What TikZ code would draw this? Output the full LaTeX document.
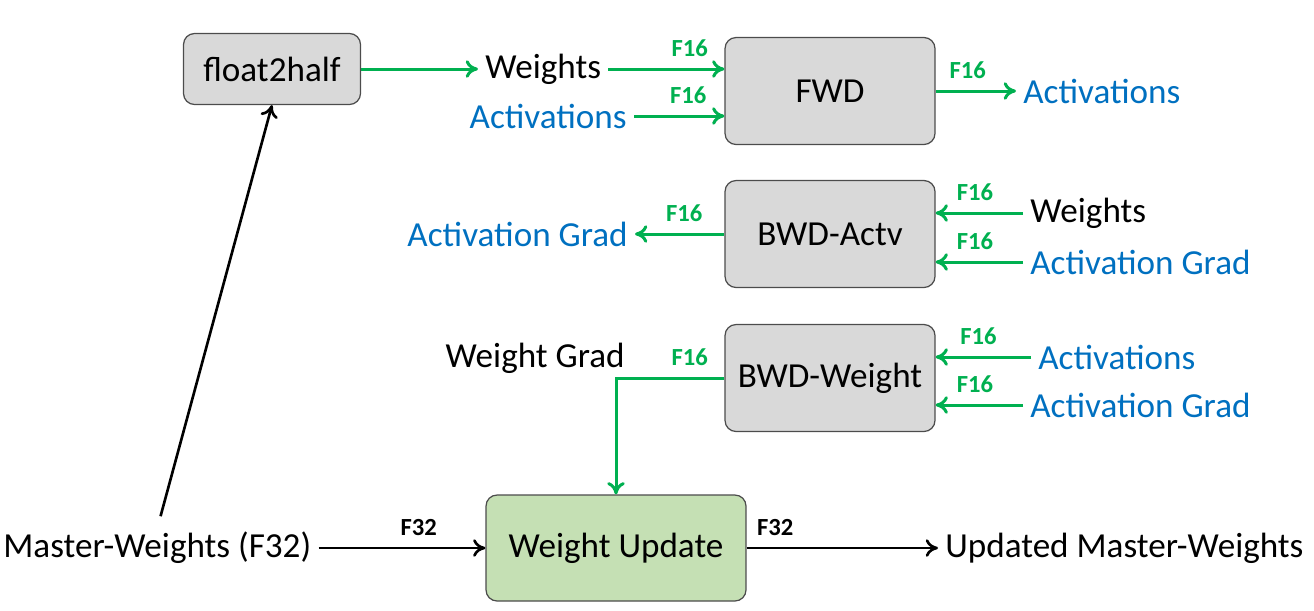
\documentclass[tikz,border=0pt]{standalone}
\usepackage{fontspec}
\setmainfont{Carlito}
\usetikzlibrary{arrows.meta,positioning}
\definecolor{flowgreen}{RGB}{0,176,80}
\definecolor{textblue}{RGB}{0,112,192}
\definecolor{boxgray}{RGB}{217,217,217}
\definecolor{boxgreen}{RGB}{197,224,180}

\begin{document}
\begin{tikzpicture}[
    x=0.02cm, y=-0.02cm,
    >={To[length=7pt,width=10pt]},
    op/.style={rectangle, rounded corners=0.22cm, draw=black!70, line width=0.7pt, fill=boxgray, minimum width=4.2cm, minimum height=2.14cm, align=center, font=\fontsize{20}{23}\selectfont},
    lbl/.style={inner xsep=4pt, inner ysep=2pt, font=\fontsize{20}{23}\selectfont},
    act/.style={lbl, text=textblue},
    prec/.style={inner sep=0pt, font=\fontsize{14}{16}\selectfont\bfseries},
    flow/.style={->, line width=1.7pt, flowgreen},
    master/.style={->, line width=1.5pt, black}
]
    \useasboundingbox (0,0) rectangle (1314,610);

    % Boxes
    \node[op, minimum width=3.54cm, minimum height=1.42cm] (f2h) at (272,69) {float2half};
    \node[op] (fwd) at (830,91) {FWD};
    \node[op] (bwda) at (830,234) {BWD-Actv};
    \node[op] (bwdw) at (830,378) {BWD-Weight};
    \node[op, fill=boxgreen, minimum width=5.2cm, minimum height=2.12cm] (wu) at (616,548) {Weight Update};

    % Labels
    \node[lbl, anchor=west] (w1) at (478,69) {Weights};
    \node[act, anchor=east] (a1) at (634,116) {Activations};
    \node[act, anchor=west] (a2) at (1016,91) {Activations};
    \node[act, anchor=east] (ag1) at (635,234) {Activation Grad};
    \node[lbl, anchor=west] (w2) at (1023,213) {Weights};
    \node[act, anchor=west] (ag2) at (1023,262) {Activation Grad};
    \node[act, anchor=west] (a3) at (1031,357) {Activations};
    \node[act, anchor=west] (ag3) at (1023,405) {Activation Grad};
    \node[lbl, anchor=east] (wg) at (632,358) {Weight Grad};
    \node[lbl, anchor=west] (mw) at (-4,548) {Master-Weights (F32)};
    \node[lbl, anchor=west] (umw) at (938,548) {Updated Master-Weights};

    % Forward
    \draw[flow] (f2h.east) -- (w1.west);
    \draw[flow] (w1.east) -- node[prec, pos=0.7, above=6pt] {F16} (w1.east -| fwd.west);
    \draw[flow] (a1.east) -- node[prec, pos=0.6, above=6pt] {F16} (a1.east -| fwd.west);
    \draw[flow] (fwd.east) -- node[prec, pos=0.4, above=6pt] {F16} (a2.west);

    % Backward activations
    \draw[flow] (w2.west) -- node[prec, pos=0.55, above=6pt] {F16} (w2.west -| bwda.east);
    \draw[flow] (ag2.west) -- node[prec, pos=0.55, above=6pt] {F16} (ag2.west -| bwda.east);
    \draw[flow] (bwda.west) -- node[prec, pos=0.45, above=6pt] {F16} (ag1.east);

    % Backward weights
    \draw[flow] (a3.west) -- node[prec, pos=0.55, above=6pt] {F16} (a3.west -| bwdw.east);
    \draw[flow] (ag3.west) -- node[prec, pos=0.55, above=6pt] {F16} (ag3.west -| bwdw.east);
    \draw[flow] (bwdw.west) -| node[prec, pos=0.16, above=6pt] {F16} (wu.north);

    % Master weights
    \draw[master] (mw.east) -- node[prec, pos=0.6, above=6pt] {F32} (wu.west);
    \draw[master] (wu.east) -- node[prec, pos=0.15, above=6pt] {F32} (umw.west);
    \draw[master, shorten <=0.25cm] (mw.north) -- (f2h.south);
\end{tikzpicture}
\end{document}
